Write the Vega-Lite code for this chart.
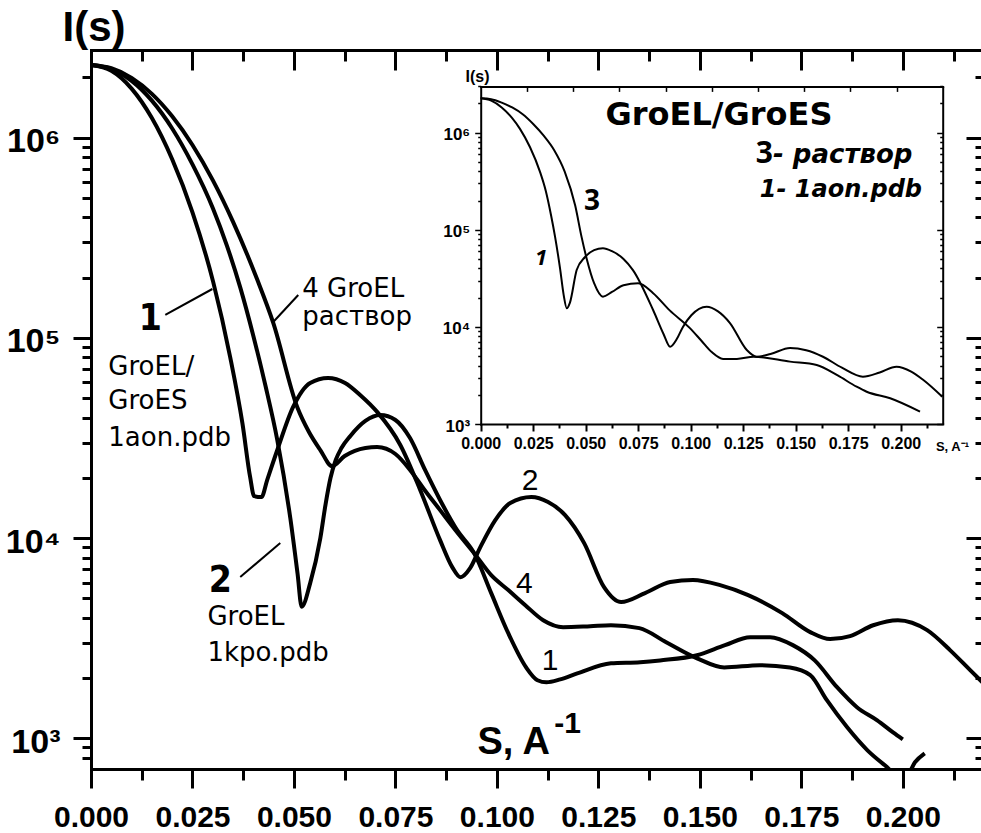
{
  "$schema": "https://vega.github.io/schema/vega-lite/v6.json",
  "width": 895,
  "height": 719,
  "autosize": {"type": "none"},
  "padding": {"left": 91, "top": 50, "right": 0, "bottom": 64},
  "background": "white",
  "config": {"view": {"stroke": null}, "axis": {"grid": false, "domainColor": "black", "tickColor": "black", "labelColor": "black", "titleColor": "black"}},
  "datasets": {
    "main": [
      {"c":"A","s":0,"I":2307000},{"c":"A","s":0.005,"I":2158000},{"c":"A","s":0.01,"I":1758000},{"c":"A","s":0.015,"I":1253000},{"c":"A","s":0.02,"I":780000},{"c":"A","s":0.025,"I":424000},{"c":"A","s":0.0301,"I":190500},{"c":"A","s":0.0343,"I":80000},{"c":"A","s":0.0373,"I":37500},{"c":"A","s":0.0392,"I":20200},{"c":"A","s":0.0402,"I":16200},{"c":"A","s":0.042,"I":16030},{"c":"A","s":0.0434,"I":19500},{"c":"A","s":0.0459,"I":27540},{"c":"A","s":0.0498,"I":45200},{"c":"A","s":0.054,"I":59600},{"c":"A","s":0.0584,"I":63100},{"c":"A","s":0.0626,"I":59600},{"c":"A","s":0.0663,"I":51900},{"c":"A","s":0.0705,"I":42700},{"c":"A","s":0.0762,"I":29200},{"c":"A","s":0.0811,"I":17400},{"c":"A","s":0.086,"I":9770},{"c":"A","s":0.089,"I":7160},{"c":"A","s":0.091,"I":6380},{"c":"A","s":0.0934,"I":7080},{"c":"A","s":0.0958,"I":8910},{"c":"A","s":0.0996,"I":12300},{"c":"A","s":0.1033,"I":14960},{"c":"A","s":0.1085,"I":16030},{"c":"A","s":0.1126,"I":15140},{"c":"A","s":0.1168,"I":13030},{"c":"A","s":0.1215,"I":9440},{"c":"A","s":0.1264,"I":5690},{"c":"A","s":0.1306,"I":4790},{"c":"A","s":0.1365,"I":5310},{"c":"A","s":0.1427,"I":6030},{"c":"A","s":0.1483,"I":6170},{"c":"A","s":0.155,"I":5820},{"c":"A","s":0.1619,"I":5190},{"c":"A","s":0.1703,"I":4220},{"c":"A","s":0.1772,"I":3390},{"c":"A","s":0.1821,"I":3130},{"c":"A","s":0.187,"I":3240},{"c":"A","s":0.1927,"I":3670},{"c":"A","s":0.1988,"I":3890},{"c":"A","s":0.206,"I":3470},{"c":"A","s":0.2117,"I":2750},{"c":"A","s":0.2166,"I":2190},{"c":"A","s":0.2216,"I":1740},
      {"c":"B","s":0,"I":2307000},{"c":"B","s":0.005,"I":2203000},{"c":"B","s":0.01,"I":1923000},{"c":"B","s":0.015,"I":1531000},{"c":"B","s":0.02,"I":1112000},{"c":"B","s":0.025,"I":736000},{"c":"B","s":0.03,"I":446000},{"c":"B","s":0.0335,"I":288400},{"c":"B","s":0.0368,"I":177800},{"c":"B","s":0.04,"I":102300},{"c":"B","s":0.043,"I":57500},{"c":"B","s":0.0459,"I":30900},{"c":"B","s":0.0491,"I":12590},{"c":"B","s":0.0509,"I":6610},{"c":"B","s":0.0519,"I":4540},{"c":"B","s":0.054,"I":5960},{"c":"B","s":0.0565,"I":10000},{"c":"B","s":0.0578,"I":14790},{"c":"B","s":0.059,"I":19950},{"c":"B","s":0.0603,"I":24550},{"c":"B","s":0.0617,"I":28180},{"c":"B","s":0.0639,"I":32400},{"c":"B","s":0.0676,"I":38500},{"c":"B","s":0.0713,"I":41200},{"c":"B","s":0.075,"I":38900},{"c":"B","s":0.0786,"I":31600},{"c":"B","s":0.0823,"I":21900},{"c":"B","s":0.086,"I":15500},{"c":"B","s":0.0902,"I":10960},{"c":"B","s":0.0944,"I":8410},{"c":"B","s":0.0986,"I":5310},{"c":"B","s":0.1028,"I":3350},{"c":"B","s":0.1072,"I":2260},{"c":"B","s":0.11,"I":1950},{"c":"B","s":0.1122,"I":1905},{"c":"B","s":0.1156,"I":1970},{"c":"B","s":0.1198,"I":2110},{"c":"B","s":0.1281,"I":2370},{"c":"B","s":0.1353,"I":2400},{"c":"B","s":0.1402,"I":2450},{"c":"B","s":0.1493,"I":2600},{"c":"B","s":0.1562,"I":2920},{"c":"B","s":0.1624,"I":3200},{"c":"B","s":0.1673,"I":3200},{"c":"B","s":0.1729,"I":2920},{"c":"B","s":0.1783,"I":2450},{"c":"B","s":0.1838,"I":1800},{"c":"B","s":0.1887,"I":1430},{"c":"B","s":0.1937,"I":1230},{"c":"B","s":0.1976,"I":1070},{"c":"B","s":0.2,"I":989},
      {"c":"C","s":0,"I":2307000},{"c":"C","s":0.005,"I":2223000},{"c":"C","s":0.01,"I":1991000},{"c":"C","s":0.015,"I":1656000},{"c":"C","s":0.02,"I":1279000},{"c":"C","s":0.025,"I":920000},{"c":"C","s":0.03,"I":614000},{"c":"C","s":0.035,"I":380000},{"c":"C","s":0.041,"I":194500},{"c":"C","s":0.0449,"I":118900},{"c":"C","s":0.0508,"I":45200},{"c":"C","s":0.0537,"I":33900},{"c":"C","s":0.0565,"I":27540},{"c":"C","s":0.0594,"I":22900},{"c":"C","s":0.0625,"I":25700},{"c":"C","s":0.0676,"I":28200},{"c":"C","s":0.0705,"I":28500},{"c":"C","s":0.075,"I":26300},{"c":"C","s":0.0786,"I":21900},{"c":"C","s":0.082,"I":17600},{"c":"C","s":0.086,"I":13800},{"c":"C","s":0.0902,"I":10700},{"c":"C","s":0.0944,"I":8410},{"c":"C","s":0.0986,"I":6530},{"c":"C","s":0.1028,"I":5500},{"c":"C","s":0.107,"I":4620},{"c":"C","s":0.1114,"I":3890},{"c":"C","s":0.1163,"I":3590},{"c":"C","s":0.123,"I":3630},{"c":"C","s":0.1281,"I":3670},{"c":"C","s":0.1351,"I":3550},{"c":"C","s":0.1417,"I":3020},{"c":"C","s":0.1493,"I":2510},{"c":"C","s":0.156,"I":2260},{"c":"C","s":0.1648,"I":2320},{"c":"C","s":0.1722,"I":2260},{"c":"C","s":0.1772,"I":2070},{"c":"C","s":0.1813,"I":1550},{"c":"C","s":0.1863,"I":1135},{"c":"C","s":0.1913,"I":871},{"c":"C","s":0.1956,"I":733},{"c":"C","s":0.1988,"I":653},{"c":"C","s":0.201,"I":653},{"c":"C","s":0.203,"I":759},{"c":"C","s":0.2054,"I":841}
    ],
    "inset": [
      {"c":"1","s":0,"I":2260000},{"c":"1","s":0.005,"I":2138000},{"c":"1","s":0.01,"I":1820000},{"c":"1","s":0.015,"I":1413000},{"c":"1","s":0.0187,"I":1096000},{"c":"1","s":0.0235,"I":708000},{"c":"1","s":0.0282,"I":398000},{"c":"1","s":0.031,"I":251200},{"c":"1","s":0.0335,"I":141300},{"c":"1","s":0.0354,"I":85100},{"c":"1","s":0.0378,"I":39800},{"c":"1","s":0.0395,"I":21380},{"c":"1","s":0.041,"I":15560},{"c":"1","s":0.0425,"I":17800},{"c":"1","s":0.0457,"I":38500},{"c":"1","s":0.0497,"I":52500},{"c":"1","s":0.054,"I":61700},{"c":"1","s":0.0582,"I":64600},{"c":"1","s":0.0625,"I":60300},{"c":"1","s":0.068,"I":50100},{"c":"1","s":0.0725,"I":38500},{"c":"1","s":0.0821,"I":14930},{"c":"1","s":0.087,"I":8510},{"c":"1","s":0.0902,"I":6250},{"c":"1","s":0.0935,"I":7590},{"c":"1","s":0.0963,"I":10000},{"c":"1","s":0.1003,"I":13180},{"c":"1","s":0.1076,"I":16140},{"c":"1","s":0.113,"I":14450},{"c":"1","s":0.1187,"I":10960},{"c":"1","s":0.1267,"I":5780},{"c":"1","s":0.1314,"I":4930},{"c":"1","s":0.138,"I":5250},{"c":"1","s":0.1473,"I":6070},{"c":"1","s":0.155,"I":5750},{"c":"1","s":0.163,"I":4930},{"c":"1","s":0.172,"I":3800},{"c":"1","s":0.182,"I":3070},{"c":"1","s":0.19,"I":3390},{"c":"1","s":0.198,"I":3890},{"c":"1","s":0.205,"I":3470},{"c":"1","s":0.2108,"I":2840},{"c":"1","s":0.2198,"I":1910},
      {"c":"3","s":0,"I":2260000},{"c":"3","s":0.005,"I":2213000},{"c":"3","s":0.01,"I":2042000},{"c":"3","s":0.015,"I":1820000},{"c":"3","s":0.02,"I":1549000},{"c":"3","s":0.025,"I":1230000},{"c":"3","s":0.03,"I":933000},{"c":"3","s":0.035,"I":661000},{"c":"3","s":0.04,"I":398000},{"c":"3","s":0.045,"I":177800},{"c":"3","s":0.048,"I":85100},{"c":"3","s":0.0505,"I":50100},{"c":"3","s":0.054,"I":28200},{"c":"3","s":0.0582,"I":20500},{"c":"3","s":0.0625,"I":22900},{"c":"3","s":0.068,"I":26900},{"c":"3","s":0.075,"I":28100},{"c":"3","s":0.082,"I":22400},{"c":"3","s":0.09,"I":14800},{"c":"3","s":0.0995,"I":9770},{"c":"3","s":0.105,"I":7240},{"c":"3","s":0.11,"I":5500},{"c":"3","s":0.1154,"I":4680},{"c":"3","s":0.122,"I":4680},{"c":"3","s":0.13,"I":4930},{"c":"3","s":0.1473,"I":4390},{"c":"3","s":0.16,"I":4060},{"c":"3","s":0.17,"I":3160},{"c":"3","s":0.179,"I":2420},{"c":"3","s":0.1838,"I":2150},{"c":"3","s":0.195,"I":1840},{"c":"3","s":0.2092,"I":1340}
    ]
  },
  "layer": [
    {
      "layer": [
        {
          "data": {"name": "main"},
          "mark": {"type": "line", "interpolate": "monotone", "strokeWidth": 4, "color": "black", "clip": true},
          "encoding": {
            "x": {"field": "s", "type": "quantitative",
              "scale": {"domain": [0, 0.2205], "nice": false, "zero": false},
              "axis": {"orient": "bottom",
                "values": [0,0.0125,0.025,0.0375,0.05,0.0625,0.075,0.0875,0.1,0.1125,0.125,0.1375,0.15,0.1625,0.175,0.1875,0.2,0.2125],
                "labelExpr": "round(datum.value*1000) % 25 == 0 ? format(datum.value, '.3f') : ''",
                "labelFont": "Liberation Sans", "labelFontSize": 30, "labelFontWeight": "bold", "labelPadding": 14,
                "labelOverlap": false, "labelFlush": false, "labelBound": false,
                "tickSize": {"condition": {"test": "round(datum.value*1000) % 25 == 0", "value": 19}, "value": 11},
                "tickWidth": 3, "domainWidth": 3, "domainCap": "square",
                "title": "S, A", "titleFont": "Liberation Sans", "titleFontSize": 38, "titleFontWeight": "bold",
                "titleX": 386, "titleY": -16, "titleAlign": "left", "titleBaseline": "alphabetic", "titleAngle": 0}},
            "y": {"field": "I", "type": "quantitative",
              "scale": {"type": "log", "domain": [702.6, 2742000], "nice": false},
              "axis": {"orient": "left",
                "values": [800,900,1000,2000,3000,4000,5000,6000,7000,8000,9000,10000,20000,30000,40000,50000,60000,70000,80000,90000,100000,200000,300000,400000,500000,600000,700000,800000,900000,1000000,2000000],
                "labelExpr": "datum.value == 1000 ? '10³' : datum.value == 10000 ? '10⁴' : datum.value == 100000 ? '10⁵' : datum.value == 1000000 ? '10⁶' : ''",
                "labelFont": "Liberation Sans", "labelFontSize": 34, "labelFontWeight": "bold", "labelPadding": 13, "labelOffset": 4,
                "labelOverlap": false, "labelFlush": false, "labelBound": false,
                "tickSize": {"condition": {"test": "datum.value == 1000 || datum.value == 10000 || datum.value == 100000 || datum.value == 1000000", "value": 18}, "value": 9},
                "tickWidth": 3, "domainWidth": 3, "domainCap": "square",
                "title": "I(s)", "titleFont": "Liberation Sans", "titleFontSize": 42, "titleFontWeight": "bold",
                "titleX": 2.5, "titleY": -10, "titleAlign": "center", "titleBaseline": "alphabetic", "titleAngle": 0}},
            "detail": {"field": "c"}
          }
        },
        {
          "data": {"values": [
            {"s": 0.0183, "I": 130200, "s2": 0.0299, "I2": 175500},
            {"s": 0.0449, "I": 120000, "s2": 0.05106, "I2": 163800},
            {"s": 0.03677, "I": 6393, "s2": 0.04663, "I2": 9450}
          ]},
          "mark": {"type": "rule", "strokeWidth": 2, "color": "black"},
          "encoding": {
            "x": {"field": "s", "type": "quantitative",
              "scale": {"domain": [0, 0.2205], "nice": false, "zero": false},
              "axis": {"orient": "top",
                "values": [0,0.0125,0.025,0.0375,0.05,0.0625,0.075,0.0875,0.1,0.1125,0.125,0.1375,0.15,0.1625,0.175,0.1875,0.2,0.2125],
                "labels": false, "title": null,
                "tickSize": {"condition": {"test": "round(datum.value*1000) % 25 == 0", "value": -20}, "value": -11},
                "tickWidth": 3, "domainWidth": 3, "domainCap": "square"}},
            "y": {"field": "I", "type": "quantitative",
              "scale": {"type": "log", "domain": [702.6, 2742000], "nice": false},
              "axis": {"orient": "right",
                "values": [800,900,1000,2000,3000,4000,5000,6000,7000,8000,9000,10000,20000,30000,40000,50000,60000,70000,80000,90000,100000,200000,300000,400000,500000,600000,700000,800000,900000,1000000,2000000],
                "labels": false, "title": null,
                "tickSize": {"condition": {"test": "datum.value == 1000 || datum.value == 10000 || datum.value == 100000 || datum.value == 1000000", "value": -20}, "value": -11},
                "tickWidth": 3, "domainWidth": 3}},
            "x2": {"field": "s2"},
            "y2": {"field": "I2"}
          }
        },
        {
          "data": {"values": [
            {"t": "1", "s": 0.01461, "I": 109500},
            {"t": "2", "s": 0.03189, "I": 5400}
          ]},
          "mark": {"type": "text", "font": "Liberation Sans Narrow, DejaVu Sans Condensed, Liberation Sans", "fontSize": 37, "fontWeight": "bold", "align": "center", "baseline": "alphabetic", "color": "black"},
          "encoding": {
            "x": {"field": "s", "type": "quantitative", "scale": {"domain": [0, 0.2205], "nice": false, "zero": false}, "axis": null},
            "y": {"field": "I", "type": "quantitative", "scale": {"type": "log", "domain": [702.6, 2742000], "nice": false}, "axis": null},
            "text": {"field": "t"}
          }
        },
        {
          "data": {"values": [
            {"t": "GroEL/", "s": 0.00426, "I": 65270},
            {"t": "GroES", "s": 0.00426, "I": 44140},
            {"t": "1aon.pdb", "s": 0.00426, "I": 28840},
            {"t": "4 GroEL", "s": 0.05205, "I": 160100},
            {"t": "раствор", "s": 0.05205, "I": 116000},
            {"t": "GroEL", "s": 0.02869, "I": 3680},
            {"t": "1kpo.pdb", "s": 0.02869, "I": 2420}
          ]},
          "mark": {"type": "text", "font": "DejaVu Sans", "fontSize": 26, "align": "left", "baseline": "alphabetic", "color": "black"},
          "encoding": {
            "x": {"field": "s", "type": "quantitative", "scale": {"domain": [0, 0.2205], "nice": false, "zero": false}, "axis": null},
            "y": {"field": "I", "type": "quantitative", "scale": {"type": "log", "domain": [702.6, 2742000], "nice": false}, "axis": null},
            "text": {"field": "t"}
          }
        },
        {
          "data": {"values": [
            {"t": "2", "s": 0.1082, "I": 17390},
            {"t": "4", "s": 0.10675, "I": 5318},
            {"t": "1", "s": 0.11313, "I": 2193}
          ]},
          "mark": {"type": "text", "font": "Liberation Sans", "fontSize": 30, "align": "center", "baseline": "alphabetic", "color": "black"},
          "encoding": {
            "x": {"field": "s", "type": "quantitative", "scale": {"domain": [0, 0.2205], "nice": false, "zero": false}, "axis": null},
            "y": {"field": "I", "type": "quantitative", "scale": {"type": "log", "domain": [702.6, 2742000], "nice": false}, "axis": null},
            "text": {"field": "t"}
          }
        },
        {
          "data": {"values": [
            {"t": "-1", "s": 0.11411, "I": 1063}
          ]},
          "mark": {"type": "text", "font": "Liberation Sans", "fontSize": 30, "fontWeight": "bold", "align": "left", "baseline": "alphabetic", "color": "black"},
          "encoding": {
            "x": {"field": "s", "type": "quantitative", "scale": {"domain": [0, 0.2205], "nice": false, "zero": false}, "axis": null},
            "y": {"field": "I", "type": "quantitative", "scale": {"type": "log", "domain": [702.6, 2742000], "nice": false}, "axis": null},
            "text": {"field": "t"}
          }
        }
      ],
      "resolve": {"axis": {"x": "independent", "y": "independent"}}
    },
    {
      "layer": [
        {
          "data": {"name": "inset"},
          "mark": {"type": "line", "interpolate": "monotone", "strokeWidth": 2, "color": "black"},
          "encoding": {
            "x": {"field": "s", "type": "quantitative",
              "scale": {"domain": [0, 0.22], "range": [389.7, 851.7], "nice": false, "zero": false},
              "axis": {"orient": "bottom", "offset": -345,
                "values": [0,0.0125,0.025,0.0375,0.05,0.0625,0.075,0.0875,0.1,0.1125,0.125,0.1375,0.15,0.1625,0.175,0.1875,0.2,0.2125],
                "labelExpr": "round(datum.value*1000) % 25 == 0 && datum.value < 0.21 ? format(datum.value, '.3f') : ''",
                "labelFont": "Liberation Sans", "labelFontSize": 16, "labelFontWeight": "bold", "labelPadding": 4,
                "labelOverlap": false, "labelFlush": false, "labelBound": false,
                "tickSize": {"condition": {"test": "round(datum.value*1000) % 25 == 0", "value": 7}, "value": 4},
                "tickWidth": 2, "domainWidth": 2, "domainCap": "square",
                "title": "S, A⁻¹", "titleFont": "Liberation Sans", "titleFontSize": 13, "titleFontWeight": "bold",
                "titleX": 861, "titleY": 26, "titleAlign": "center", "titleBaseline": "alphabetic", "titleAngle": 0}},
            "y": {"field": "I", "type": "quantitative",
              "scale": {"type": "log", "domain": [1000, 3000000], "range": [374, 36.4], "nice": false},
              "axis": {"orient": "left", "offset": -389.7,
                "values": [1000,2000,3000,4000,5000,6000,7000,8000,9000,10000,20000,30000,40000,50000,60000,70000,80000,90000,100000,200000,300000,400000,500000,600000,700000,800000,900000,1000000,2000000,3000000],
                "labelExpr": "datum.value == 1000 ? '10³' : datum.value == 10000 ? '10⁴' : datum.value == 100000 ? '10⁵' : datum.value == 1000000 ? '10⁶' : ''",
                "labelFont": "Liberation Sans", "labelFontSize": 17, "labelFontWeight": "bold", "labelPadding": 5, "labelOffset": 2,
                "labelOverlap": false, "labelFlush": false, "labelBound": false,
                "tickSize": {"condition": {"test": "datum.value == 1000 || datum.value == 10000 || datum.value == 100000 || datum.value == 1000000", "value": 6}, "value": 3},
                "tickWidth": 1.5, "domainWidth": 2, "domainCap": "square",
                "title": "I(s)", "titleFont": "Liberation Sans", "titleFontSize": 16, "titleFontWeight": "bold",
                "titleX": -3.7, "titleY": 31.5, "titleAlign": "center", "titleBaseline": "alphabetic", "titleAngle": 0}},
            "detail": {"field": "c"}
          }
        },
        {
          "data": {"values": [
            {"t": "GroEL/GroES", "s": 0.11348, "I": 1200000}
          ]},
          "mark": {"type": "text", "font": "DejaVu Sans", "fontSize": 32, "fontWeight": "bold", "align": "center", "baseline": "alphabetic", "color": "black"},
          "encoding": {
            "x": {"field": "s", "type": "quantitative",
              "scale": {"domain": [0, 0.22], "range": [389.7, 851.7], "nice": false, "zero": false},
              "axis": {"orient": "top", "offset": -36.4,
                "values": [0.022,0.044,0.066,0.088,0.11,0.132,0.154,0.176,0.198],
                "labels": false, "title": null, "tickSize": -5, "tickWidth": 1.5, "domainWidth": 2, "domainCap": "square"}},
            "y": {"field": "I", "type": "quantitative",
              "scale": {"type": "log", "domain": [1000, 3000000], "range": [374, 36.4], "nice": false},
              "axis": {"orient": "right", "offset": -43.3,
                "values": [1000,2000,3000,4000,5000,6000,7000,8000,9000,10000,20000,30000,40000,50000,60000,70000,80000,90000,100000,200000,300000,400000,500000,600000,700000,800000,900000,1000000,2000000,3000000],
                "labels": false, "title": null,
                "tickSize": {"condition": {"test": "datum.value == 1000 || datum.value == 10000 || datum.value == 100000 || datum.value == 1000000", "value": -6}, "value": -3},
                "tickWidth": 1.5, "domainWidth": 2}},
            "text": {"field": "t"}
          }
        },
        {
          "data": {"values": [
            {"t": "3", "s": 0.13919, "I": 487600}
          ]},
          "mark": {"type": "text", "font": "Open Sans", "fontSize": 30, "fontWeight": "bold", "align": "right", "baseline": "alphabetic", "color": "black"},
          "encoding": {
            "x": {"field": "s", "type": "quantitative", "scale": {"domain": [0, 0.22], "range": [389.7, 851.7], "nice": false, "zero": false}, "axis": null},
            "y": {"field": "I", "type": "quantitative", "scale": {"type": "log", "domain": [1000, 3000000], "range": [374, 36.4], "nice": false}, "axis": null},
            "text": {"field": "t"}
          }
        },
        {
          "data": {"values": [
            {"t": "- раствор", "s": 0.13919, "I": 487600}
          ]},
          "mark": {"type": "text", "font": "DejaVu Sans", "fontSize": 26, "fontWeight": "bold", "fontStyle": "italic", "align": "left", "baseline": "alphabetic", "color": "black"},
          "encoding": {
            "x": {"field": "s", "type": "quantitative", "scale": {"domain": [0, 0.22], "range": [389.7, 851.7], "nice": false, "zero": false}, "axis": null},
            "y": {"field": "I", "type": "quantitative", "scale": {"type": "log", "domain": [1000, 3000000], "range": [374, 36.4], "nice": false}, "axis": null},
            "text": {"field": "t"}
          }
        },
        {
          "data": {"values": [
            {"t": "1- 1aon.pdb", "s": 0.21014, "I": 217700}
          ]},
          "mark": {"type": "text", "font": "DejaVu Sans", "fontSize": 24, "fontWeight": "bold", "fontStyle": "italic", "align": "right", "baseline": "alphabetic", "color": "black"},
          "encoding": {
            "x": {"field": "s", "type": "quantitative", "scale": {"domain": [0, 0.22], "range": [389.7, 851.7], "nice": false, "zero": false}, "axis": null},
            "y": {"field": "I", "type": "quantitative", "scale": {"type": "log", "domain": [1000, 3000000], "range": [374, 36.4], "nice": false}, "axis": null},
            "text": {"field": "t"}
          }
        },
        {
          "data": {"values": [
            {"t": "3", "s": 0.053, "I": 160000}
          ]},
          "mark": {"type": "text", "font": "Open Sans", "fontSize": 28, "fontWeight": "bold", "align": "center", "baseline": "alphabetic", "color": "black"},
          "encoding": {
            "x": {"field": "s", "type": "quantitative", "scale": {"domain": [0, 0.22], "range": [389.7, 851.7], "nice": false, "zero": false}, "axis": null},
            "y": {"field": "I", "type": "quantitative", "scale": {"type": "log", "domain": [1000, 3000000], "range": [374, 36.4], "nice": false}, "axis": null},
            "text": {"field": "t"}
          }
        },
        {
          "data": {"values": [
            {"t": "1", "s": 0.02871, "I": 43400}
          ]},
          "mark": {"type": "text", "font": "Open Sans", "fontSize": 22, "fontWeight": "bold", "fontStyle": "italic", "align": "center", "baseline": "alphabetic", "color": "black"},
          "encoding": {
            "x": {"field": "s", "type": "quantitative", "scale": {"domain": [0, 0.22], "range": [389.7, 851.7], "nice": false, "zero": false}, "axis": null},
            "y": {"field": "I", "type": "quantitative", "scale": {"type": "log", "domain": [1000, 3000000], "range": [374, 36.4], "nice": false}, "axis": null},
            "text": {"field": "t"}
          }
        }
      ],
      "resolve": {"axis": {"x": "independent", "y": "independent"}}
    }
  ],
  "resolve": {"scale": {"x": "independent", "y": "independent"}, "axis": {"x": "independent", "y": "independent"}}
}
